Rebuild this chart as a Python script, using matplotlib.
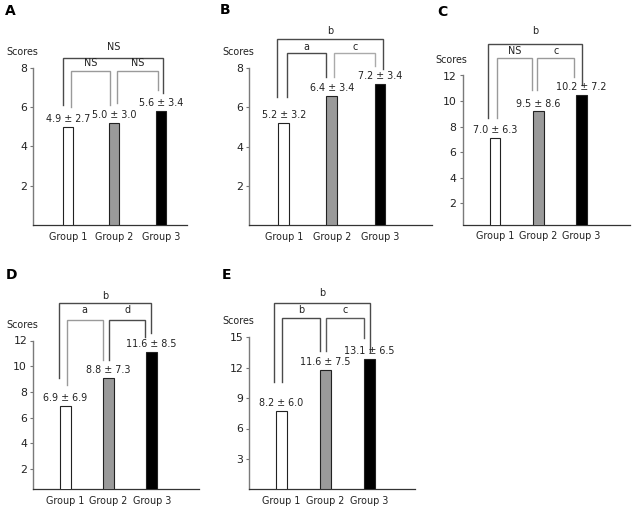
import matplotlib
matplotlib.use("Agg")
import matplotlib.pyplot as plt

plt.rcParams['font.family'] = ['DejaVu Sans']

groups = ['Group 1', 'Group 2', 'Group 3']
panels = ['A', 'B', 'C', 'D', 'E']

bars_A = [5.0, 5.2, 5.8]
mean_A = [4.9, 5.0, 5.6]
sd_A = [2.7, 3.0, 3.4]
sig_A = ['NS', 'NS', 'NS']   # 1-2, 2-3, 1-3

bars_B = [5.2, 6.6, 7.2]
mean_B = [5.2, 6.4, 7.2]
sd_B = [3.2, 3.4, 3.4]
sig_B = ['a', 'c', 'b']

bars_C = [7.1, 9.2, 10.5]
mean_C = [7.0, 9.5, 10.2]
sd_C = [6.3, 8.6, 7.2]
sig_C = ['NS', 'c', 'b']

bars_D = [6.9, 9.1, 11.1]
mean_D = [6.9, 8.8, 11.6]
sd_D = [6.9, 7.3, 8.5]
sig_D = ['a', 'd', 'b']

bars_E = [7.7, 11.8, 12.9]
mean_E = [8.2, 11.6, 13.1]
sd_E = [6.0, 7.5, 6.5]
sig_E = ['b', 'c', 'b']

yticks_A = [2, 4, 6, 8]
yticks_B = [2, 4, 6, 8]
yticks_C = [2, 4, 6, 8, 10, 12]
yticks_D = [2, 4, 6, 8, 10, 12]
yticks_E = [3, 6, 9, 12, 15]

bar_colors = ['white', '#9a9a9a', 'black']
DARK = '#4a4a4a'
GRAY = '#9a9a9a'

W, H = 635, 512

# layout: pixel box (L, R, T, B), ylim, xlim, bar width
layout = {
    'A': dict(box=(33.3, 187, 67.7, 225), ylim=(0, 8), xlim=(-0.735, 2.55), bw=0.214,
              letter=(10, 11)),
    'B': dict(box=(249.3, 431.7, 68.3, 225), ylim=(0, 8), xlim=(-0.717, 3.08), bw=0.22,
              letter=(225, 10)),
    'C': dict(box=(462.7, 630, 75.5, 224.5), ylim=(0.35, 12), xlim=(-0.755, 3.12), bw=0.24,
              letter=(442, 11.5)),
    'D': dict(box=(33.3, 199.3, 340.5, 489), ylim=(0.45, 12), xlim=(-0.74, 3.1), bw=0.25,
              letter=(11.5, 275)),
    'E': dict(box=(249.3, 415, 337.3, 489.3), ylim=(0, 15), xlim=(-0.726, 3.03), bw=0.24,
              letter=(226, 275)),
}

# bracket geometry in data units: (x0, x1, top, leg0_end, leg1_end, label_y, color)
brackets = {
    'A': [(0.064, 0.904, 7.85, 6.02, 6.11, 8.23, GRAY),
          (1.047, 1.936, 7.85, 6.19, 6.87, 8.23, GRAY),
          (-0.094, 2.043, 8.48, 6.11, 6.70, 9.07, DARK)],
    'B': [(0.0625, 0.881, 8.77, 6.53, 7.55, 9.11, DARK),
          (1.054, 1.902, 8.77, 7.55, 8.14, 9.11, '#aaaaaa'),
          (-0.133, 2.075, 9.50, 6.53, 7.97, 9.92, DARK)],
    'C': [(0.032, 0.856, 13.4, 8.64, 10.85, 13.9, GRAY),
          (0.972, 1.829, 13.4, 10.85, 11.89, 13.9, GRAY),
          (-0.162, 2.0, 14.5, 8.64, 11.24, 15.48, DARK)],
    'D': [(0.032, 0.866, 13.6, 8.54, 10.48, 14.4, GRAY),
          (1.019, 1.845, 13.6, 10.48, 12.3, 14.4, DARK),
          (-0.146, 1.984, 14.89, 9.06, 12.56, 15.46, DARK)],
    'E': [(0.023, 0.878, 16.9, 10.56, 13.66, 17.73, DARK),
          (1.014, 1.882, 16.9, 13.66, 14.9, 17.73, '#5a5a5a'),
          (-0.159, 2.01, 18.4, 10.56, 13.56, 19.4, DARK)],
}

data = {
    'A': (bars_A, mean_A, sd_A, sig_A, yticks_A),
    'B': (bars_B, mean_B, sd_B, sig_B, yticks_B),
    'C': (bars_C, mean_C, sd_C, sig_C, yticks_C),
    'D': (bars_D, mean_D, sd_D, sig_D, yticks_D),
    'E': (bars_E, mean_E, sd_E, sig_E, yticks_E),
}

fig = plt.figure(figsize=(W / 100, H / 100), dpi=100)
FS = 6.9

for p in panels:
    lay = layout[p]
    L, R, T, B = lay['box']
    ax = fig.add_axes([L / W, 1 - B / H, (R - L) / W, (B - T) / H])
    bars, means, sds, sigs, yt = data[p]
    x = list(range(len(groups)))
    ax.bar(x, bars, width=lay['bw'], color=bar_colors, edgecolor='#222222', linewidth=0.8,
           zorder=3)
    for xi, b, m, s in zip(x, bars, means, sds):
        ax.annotate(f"{m:.1f} \u00b1 {s:.1f}", xy=(xi, b), xytext=(0, 2),
                    textcoords='offset points', ha='center', va='bottom', fontsize=FS,
                    color='#222222')
    ax.set_xlim(*lay['xlim'])
    ax.set_ylim(*lay['ylim'])
    ax.set_yticks(yt)
    ax.set_yticklabels([str(v) for v in yt])
    ax.set_xticks(x)
    ax.set_xticklabels(groups)
    ax.tick_params(axis='x', length=0, pad=5, labelsize=FS, colors='#222222')
    ax.tick_params(axis='y', length=2.5, width=0.8, pad=2, labelsize=7.8, color='#777777',
                   labelcolor='#222222')
    for sp in ['top', 'right']:
        ax.spines[sp].set_visible(False)
    ax.spines['left'].set_color('#7a7a7a')
    ax.spines['left'].set_linewidth(1.0)
    ax.spines['bottom'].set_color('#333333')
    ax.spines['bottom'].set_linewidth(0.9)
    ax.patch.set_alpha(0)

    for (x0, x1, top, e0, e1, ly, col), lab in zip(brackets[p], sigs):
        ax.plot([x0, x0, x1, x1], [e0, top, top, e1], color=col, linewidth=1.0,
                clip_on=False, solid_joinstyle='miter', zorder=2)
        ax.text((x0 + x1) / 2, ly, lab, ha='center', va='center', fontsize=FS,
                color='#222222', clip_on=False)

    ax.annotate('Scores', xy=(0, 1), xycoords='axes fraction', xytext=(-8, 11.5),
                textcoords='offset points', ha='center', va='center', fontsize=FS,
                color='#222222')
    lx, ly_ = lay['letter']
    fig.text(lx / W, 1 - ly_ / H, p, fontsize=10, fontweight='bold', ha='center',
             va='center')

fig.savefig('out.png', dpi=100)
